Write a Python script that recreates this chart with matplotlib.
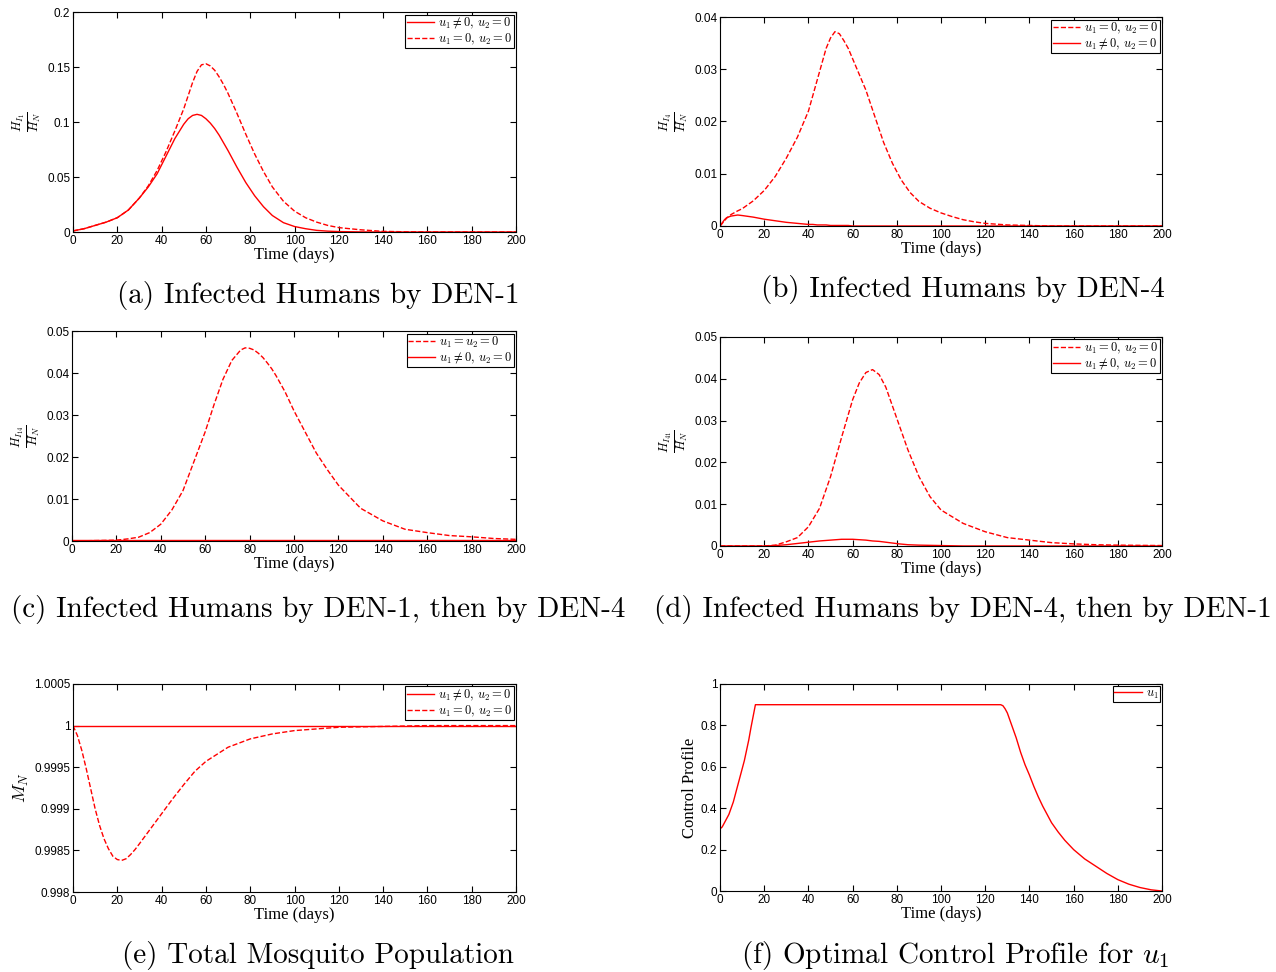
import matplotlib
matplotlib.use('Agg')
import matplotlib.pyplot as plt
import numpy as np

plt.rcParams['mathtext.fontset'] = 'cm'
plt.rcParams['font.family'] = 'Liberation Sans'

# ---- data ----
# (a) infected humans by DEN-1
t_a = [0, 5, 10, 15, 20, 25, 30, 34, 38, 42, 46, 50, 52, 54, 56, 58, 60, 62, 64, 66, 68, 70,
       74, 78, 82, 86, 90, 95, 100, 105, 110, 115, 120, 130, 140, 150, 160, 200]
a_ctrl = [0.001, 0.003, 0.006, 0.009, 0.013, 0.020, 0.031, 0.041, 0.053, 0.069, 0.085, 0.098,
          0.103, 0.106, 0.107, 0.106, 0.103, 0.099, 0.094, 0.088, 0.081, 0.074, 0.059, 0.045,
          0.033, 0.023, 0.015, 0.0085, 0.005, 0.003, 0.0015, 0.0008, 0.0004, 0.0001, 0, 0, 0, 0]
a_none = [0.001, 0.003, 0.006, 0.009, 0.013, 0.020, 0.031, 0.042, 0.056, 0.073, 0.092, 0.112,
          0.124, 0.136, 0.146, 0.152, 0.153, 0.151, 0.147, 0.141, 0.134, 0.126, 0.108, 0.089,
          0.071, 0.055, 0.041, 0.028, 0.019, 0.013, 0.009, 0.006, 0.004, 0.002, 0.0006,
          0.0002, 0.0001, 0]

# (b) infected humans by DEN-4
t_b = [0, 1, 2, 3, 5, 8, 10, 15, 20, 25, 30, 35, 40, 42, 44, 46, 48, 50, 52, 54, 56, 58, 60,
       62, 64, 66, 68, 70, 74, 78, 82, 86, 90, 95, 100, 105, 110, 115, 120, 130, 140, 150, 200]
b_none = [0, 0.0005, 0.001, 0.0015, 0.0022, 0.0029, 0.0033, 0.0048, 0.0068, 0.0095, 0.013,
          0.017, 0.022, 0.025, 0.028, 0.031, 0.034, 0.036, 0.0372, 0.0368, 0.0355, 0.034,
          0.032, 0.030, 0.028, 0.026, 0.0235, 0.021, 0.016, 0.012, 0.0088, 0.0064, 0.0047,
          0.0034, 0.0025, 0.0018, 0.0012, 0.0008, 0.0005, 0.0002, 0.0001, 0, 0]
b_ctrl = [0, 0.0006, 0.0012, 0.0016, 0.0019, 0.0021, 0.002, 0.0017, 0.0013, 0.001, 0.0007,
          0.0005, 0.0003, 0.0003, 0.0002, 0.0002, 0.0002, 0.0001, 0.0001, 0.0001, 0.0001,
          0.0001, 0] + [0] * 20

# (c) infected by DEN-1 then DEN-4
t_c = [0, 10, 20, 25, 30, 35, 40, 45, 50, 55, 60, 64, 68, 72, 76, 78, 80, 82, 84, 86, 88, 90,
       92, 96, 100, 105, 110, 115, 120, 130, 140, 150, 160, 170, 180, 190, 200]
c_none = [0, 0.0001, 0.0002, 0.0005, 0.0009, 0.002, 0.004, 0.0074, 0.012, 0.019, 0.026,
          0.0325, 0.0385, 0.043, 0.0455, 0.046, 0.0459, 0.0455, 0.0447, 0.0437, 0.0424, 0.041,
          0.0393, 0.0355, 0.031, 0.026, 0.021, 0.017, 0.0133, 0.0078, 0.0048, 0.0028, 0.002,
          0.0013, 0.001, 0.0006, 0.0004]
c_ctrl = [0.0002] * len(t_c)

# (d) infected by DEN-4 then DEN-1
t_d = [0, 10, 20, 25, 30, 35, 40, 45, 50, 55, 60, 63, 66, 69, 72, 75, 78, 81, 85, 90, 95, 100,
       110, 120, 130, 140, 150, 160, 170, 180, 200]
d_none = [0, 0, 0, 0.0002, 0.001, 0.002, 0.0046, 0.009, 0.0166, 0.026, 0.035, 0.039, 0.0415,
          0.0422, 0.041, 0.038, 0.0335, 0.029, 0.023, 0.0166, 0.0118, 0.0086, 0.0054, 0.0034,
          0.002, 0.0014, 0.0008, 0.0005, 0.0003, 0.0002, 0.0001]
d_ctrl = [0, 0, 0, 0.0001, 0.0003, 0.0006, 0.0009, 0.0012, 0.0014, 0.0016, 0.0016, 0.0015,
          0.0014, 0.0012, 0.0011, 0.0009, 0.0007, 0.0005, 0.0003, 0.0002, 0.00015, 0.0001,
          0, 0, 0, 0, 0, 0, 0, 0, 0]

# (e) total mosquito population
t_e = [0, 2, 4, 6, 8, 10, 12, 14, 16, 18, 20, 22, 24, 26, 28, 30, 35, 40, 45, 50, 55, 60, 70,
       80, 90, 100, 110, 120, 140, 160, 200]
e_none = [1.0, 0.99988, 0.99970, 0.99948, 0.99924, 0.99900, 0.99880, 0.99864, 0.99852,
          0.99843, 0.99839, 0.99838, 0.99840, 0.99845, 0.99851, 0.99858, 0.99876, 0.99894,
          0.99912, 0.99929, 0.99945, 0.99957, 0.99974, 0.99984, 0.99990, 0.99994, 0.99996,
          0.99998, 0.99999, 1.0, 1.0]
e_ctrl = [1.0] * len(t_e)

# (f) optimal control u1
t_f = [0, 1, 2, 3, 4, 5, 6, 7, 8, 9, 10, 11, 12, 13, 14, 15, 16, 127, 128, 129, 130, 132, 134,
       136, 138, 140, 142, 144, 146, 148, 150, 153, 156, 160, 165, 170, 175, 180, 185, 190,
       195, 200]
u1 = [0.30, 0.31, 0.33, 0.35, 0.37, 0.40, 0.43, 0.47, 0.51, 0.55, 0.59, 0.63, 0.68, 0.73,
      0.79, 0.845, 0.90, 0.90, 0.895, 0.88, 0.86, 0.80, 0.74, 0.67, 0.61, 0.56, 0.505, 0.455,
      0.41, 0.37, 0.33, 0.285, 0.245, 0.20, 0.155, 0.12, 0.085, 0.055, 0.033, 0.017, 0.006,
      0.0]

lbl_ctrl = r'$u_1 \neq 0,\, u_2 = 0$'
lbl_none = r'$u_1 = 0,\, u_2 = 0$'
lbl_none_c = r'$u_1 = u_2 = 0$'

fig = plt.figure(figsize=(12.76, 9.72), dpi=100)

def style(ax, ylim, yticks, ytl):
    ax.set_xlim(0, 200)
    ax.set_ylim(*ylim)
    ax.set_xticks(range(0, 201, 20))
    ax.set_yticks(yticks)
    ax.set_yticklabels(ytl)
    ax.tick_params(direction='in', top=True, right=True, labelsize=8.5, pad=2, length=4)
    for s in ax.spines.values():
        s.set_linewidth(0.8)
    ax.set_xlabel('Time (days)', family='Liberation Serif', fontsize=12, labelpad=0)

def legend(ax, order):
    leg = ax.legend(handles=order, loc='upper right', fontsize=9, fancybox=False,
                    edgecolor='black', handlelength=2.2, borderpad=0.1, labelspacing=0.05,
                    handletextpad=0.3, borderaxespad=0.2, framealpha=1)
    leg.get_frame().set_linewidth(0.8)

def caption(x, y, s):
    fig.text(x / 1276, 1 - y / 972, s, family='cmr10', fontsize=21, ha='center', va='center')

# (a)
ax = fig.add_axes([0.0572, 0.7613, 0.3472, 0.2263])
h1, = ax.plot(t_a, a_ctrl, '-', color='red', lw=1, label=lbl_ctrl)
h2, = ax.plot(t_a, a_none, '--', color='red', lw=1, label=lbl_none)
style(ax, (0, 0.2), [0, 0.05, 0.1, 0.15, 0.2], ['0', '0.05', '0.1', '0.15', '0.2'])
ax.set_ylabel(r'$\frac{H_{I_1}}{H_N}$', fontsize=13, labelpad=2)
legend(ax, [h1, h2])
caption(318, 295, '(a) Infected Humans by DEN-1')

# (b)
ax = fig.add_axes([0.5643, 0.7675, 0.3464, 0.2150])
h2, = ax.plot(t_b, b_none, '--', color='red', lw=1, label=lbl_none)
h1, = ax.plot(t_b, b_ctrl, '-', color='red', lw=1, label=lbl_ctrl)
style(ax, (0, 0.04), [0, 0.01, 0.02, 0.03, 0.04], ['0', '0.01', '0.02', '0.03', '0.04'])
ax.set_ylabel(r'$\frac{H_{I_4}}{H_N}$', fontsize=13, labelpad=2)
legend(ax, [h2, h1])
caption(963, 290, '(b) Infected Humans by DEN-4')

# (c)
ax = fig.add_axes([0.0564, 0.4434, 0.3480, 0.2160])
h2, = ax.plot(t_c, c_none, '--', color='red', lw=1, label=lbl_none_c)
h1, = ax.plot(t_c, c_ctrl, '-', color='red', lw=1, label=lbl_ctrl)
style(ax, (0, 0.05), [0, 0.01, 0.02, 0.03, 0.04, 0.05],
      ['0', '0.01', '0.02', '0.03', '0.04', '0.05'])
ax.set_ylabel(r'$\frac{H_{I_{14}}}{H_N}$', fontsize=13, labelpad=2)
legend(ax, [h2, h1])
caption(318, 610, '(c) Infected Humans by DEN-1, then by DEN-4')

# (d)
ax = fig.add_axes([0.5643, 0.4383, 0.3464, 0.2150])
h2, = ax.plot(t_d, d_none, '--', color='red', lw=1, label=lbl_none)
h1, = ax.plot(t_d, d_ctrl, '-', color='red', lw=1, label=lbl_ctrl)
style(ax, (0, 0.05), [0, 0.01, 0.02, 0.03, 0.04, 0.05],
      ['0', '0.01', '0.02', '0.03', '0.04', '0.05'])
ax.set_ylabel(r'$\frac{H_{I_{41}}}{H_N}$', fontsize=13, labelpad=2)
legend(ax, [h2, h1])
caption(963, 610, '(d) Infected Humans by DEN-4, then by DEN-1')

# (e)
ax = fig.add_axes([0.0572, 0.0823, 0.3472, 0.2140])
h1, = ax.plot(t_e, e_ctrl, '-', color='red', lw=1, label=lbl_ctrl)
h2, = ax.plot(t_e, e_none, '--', color='red', lw=1, label=lbl_none)
style(ax, (0.998, 1.0005), [0.998, 0.9985, 0.999, 0.9995, 1.0, 1.0005],
      ['0.998', '0.9985', '0.999', '0.9995', '1', '1.0005'])
ax.set_ylabel(r'$M_N$', fontsize=13, labelpad=2)
legend(ax, [h1, h2])
caption(318, 955, '(e) Total Mosquito Population')

# (f)
ax = fig.add_axes([0.5643, 0.0833, 0.3464, 0.2130])
h1, = ax.plot(t_f, u1, '-', color='red', lw=1, label=r'$u_1$')
style(ax, (0, 1), [0, 0.2, 0.4, 0.6, 0.8, 1], ['0', '0.2', '0.4', '0.6', '0.8', '1'])
ax.set_ylabel('Control Profile', family='Liberation Serif', fontsize=12, labelpad=2)
legend(ax, [h1])
caption(955, 955, '(f) Optimal Control Profile for $u_1$')

fig.savefig('out.png', dpi=100)
